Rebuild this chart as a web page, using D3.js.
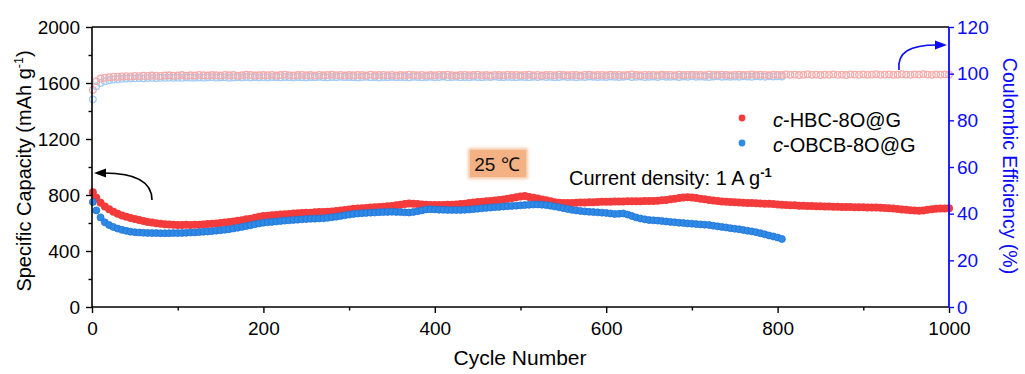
<!DOCTYPE html>
<html>
<head>
<meta charset="utf-8">
<script src="https://cdn.jsdelivr.net/npm/d3@7"></script>
<style>
  body { margin: 0; background: #fff; }
  svg { display: block; }
  text { font-family: "Liberation Sans", Arial, sans-serif; }
</style>
</head>
<body>
<svg id="chart" width="1025" height="374"></svg>
<script>
// Specific capacity (mAh g-1): first value is cycle 1, then every 5th cycle
const hbcCapacity = [
  820, 780, 745, 718, 698, 680, 666, 654, 645, 636,
  628, 621, 614, 608, 603, 598, 594, 591, 589, 587,
  586, 585, 587, 585, 588, 588, 590, 592, 594, 597,
  600, 603, 607, 611, 616, 620, 626, 631, 638, 644,
  650, 652, 655, 658, 660, 663, 665, 667, 669, 671,
  673, 674, 676, 678, 679, 681, 683, 686, 690, 693,
  697, 701, 704, 706, 708, 710, 712, 714, 716, 719,
  722, 726, 730, 735, 740, 738, 736, 733, 730, 729,
  728, 729, 729, 730, 730, 732, 735, 738, 742, 746,
  750, 752, 755, 757, 760, 764, 768, 773, 778, 784,
  790, 792, 786, 781, 775, 768, 762, 755, 748, 745,
  742, 742, 743, 745, 746, 747, 748, 749, 750, 751,
  752, 752, 753, 754, 754, 755, 755, 756, 756, 757,
  757, 758, 759, 762, 765, 769, 774, 778, 782, 784,
  782, 778, 774, 769, 765, 761, 757, 754, 752, 750,
  748, 746, 745, 743, 742, 741, 740, 738, 737, 735,
  733, 731, 729, 727, 726, 724, 723, 722, 721, 720,
  719, 718, 717, 716, 716, 715, 714, 714, 713, 712,
  712, 711, 711, 710, 709, 708, 706, 703, 700, 697,
  694, 691, 689, 688, 690, 694, 698, 701, 703, 704,
  705
];
const obcbCapacity = [
  750, 690, 640, 605, 585, 571, 560, 551, 544, 538,
  534, 532, 530, 529, 528, 528, 527, 527, 527, 528,
  528, 529, 530, 532, 533, 535, 537, 539, 542, 545,
  548, 552, 556, 561, 566, 572, 578, 584, 591, 597,
  602, 605, 608, 611, 614, 617, 619, 622, 624, 626,
  628, 630, 631, 633, 634, 637, 641, 645, 650, 655,
  660, 664, 668, 670, 672, 674, 675, 677, 678, 679,
  680, 679, 678, 676, 675, 679, 684, 690, 697, 698,
  697, 695, 694, 693, 693, 693, 693, 694, 696, 699,
  702, 705, 708, 710, 713, 715, 718, 720, 722, 724,
  726, 728, 730, 732, 733, 731, 728, 723, 718, 712,
  706, 700, 694, 690, 686, 683, 680, 678, 676, 674,
  672, 668, 664, 666, 668, 660, 650, 640, 632, 626,
  621, 619, 617, 614, 611, 608, 605, 602, 600, 597,
  595, 592, 590, 588, 586, 581, 576, 572, 568, 563,
  559, 555, 550, 545, 540, 534, 527, 519, 511, 504,
  496, 486
];

// Coulombic efficiency (%), same cycle sampling
const hbcEfficiency = [
  93.0, 96.8, 97.9, 98.3, 98.5, 98.7, 98.6, 98.8, 98.9, 98.8,
  99.0, 98.9, 99.1, 99.0, 99.2, 99.1, 99.0, 99.2, 99.3, 99.1,
  99.2, 99.4, 99.1, 99.3, 99.2, 99.5, 99.3, 99.2, 99.4, 99.3,
  99.2, 99.5, 99.3, 99.4, 99.1, 99.3, 99.6, 99.4, 99.2, 99.3,
  99.4, 99.3, 99.5, 99.2, 99.4, 99.6, 99.3, 99.2, 99.4, 99.5,
  99.3, 99.4, 99.2, 99.5, 99.3, 99.4, 99.6, 99.3, 99.5, 99.2,
  99.4, 99.3, 99.5, 99.4, 99.2, 99.6, 99.3, 99.4, 99.5, 99.3,
  99.5, 99.2, 99.4, 99.3, 99.6, 99.4, 99.3, 99.5, 99.2, 99.4,
  99.3, 99.5, 99.4, 99.6, 99.3, 99.2, 99.4, 99.5, 99.3, 99.4,
  99.6, 99.3, 99.4, 99.2, 99.5, 99.4, 99.3, 99.6, 99.4, 99.5,
  99.3, 99.4, 99.6, 99.3, 99.5, 99.2, 99.4, 99.5, 99.3, 99.6,
  99.4, 99.3, 99.5, 99.4, 99.2, 99.5, 99.6, 99.3, 99.4, 99.5,
  99.3, 99.6, 99.4, 99.5, 99.3, 99.4, 99.7, 99.4, 99.3, 99.5,
  99.4, 99.5, 99.3, 99.6, 99.4, 99.5, 99.3, 99.6, 99.4, 99.5,
  99.6, 99.4, 99.5, 99.3, 99.7, 99.5, 99.4, 99.6, 99.5, 99.3,
  99.5, 99.6, 99.4, 99.5, 99.7, 99.4, 99.6, 99.5, 99.3, 99.6,
  99.5, 99.4, 99.7, 99.5, 99.6, 99.4, 99.5, 99.8, 99.5, 99.6,
  99.4, 99.6, 99.5, 99.7, 99.5, 99.6, 99.4, 99.7, 99.6, 99.5,
  99.7, 99.5, 99.6, 99.8, 99.5, 99.6, 99.7, 99.5, 99.6, 99.8,
  99.6, 99.5, 99.7, 99.6, 99.8, 99.6, 99.5, 99.7, 99.6, 99.7,
  99.6
];
const obcbEfficiency = [
  89.0, 94.6, 96.0, 96.8, 97.2, 97.5, 97.6, 97.8, 97.9, 97.9,
  98.0, 98.1, 98.0, 98.1, 98.2, 98.1, 98.2, 98.2, 98.3, 98.2,
  98.3, 98.2, 98.4, 98.3, 98.3, 98.4, 98.3, 98.4, 98.5, 98.3,
  98.4, 98.5, 98.3, 98.4, 98.5, 98.4, 98.6, 98.4, 98.5, 98.4,
  98.5, 98.4, 98.6, 98.5, 98.4, 98.6, 98.5, 98.4, 98.6, 98.5,
  98.4, 98.6, 98.5, 98.7, 98.5, 98.4, 98.6, 98.5, 98.7, 98.5,
  98.6, 98.5, 98.4, 98.6, 98.7, 98.5, 98.6, 98.4, 98.6, 98.5,
  98.7, 98.5, 98.6, 98.5, 98.4, 98.7, 98.6, 98.5, 98.6, 98.7,
  98.5, 98.6, 98.8, 98.5, 98.6, 98.7, 98.5, 98.6, 98.5, 98.7,
  98.6, 98.5, 98.7, 98.6, 98.8, 98.6, 98.5, 98.7, 98.6, 98.5,
  98.7, 98.6, 98.5, 98.7, 98.6, 98.8, 98.6, 98.7, 98.5, 98.6,
  98.8, 98.6, 98.7, 98.5, 98.7, 98.6, 98.8, 98.7, 98.6, 98.7,
  98.6, 98.8, 98.7, 98.6, 98.7, 98.9, 98.6, 98.7, 98.8, 98.6,
  98.7, 98.8, 98.6, 98.9, 98.7, 98.7, 98.8, 98.6, 98.8, 98.7,
  98.9, 98.7, 98.8, 98.7, 98.6, 98.8, 98.9, 98.7, 98.8, 98.7,
  98.8, 98.7, 98.9, 98.8, 98.7, 98.9, 98.8, 98.7, 98.9, 98.8,
  98.9, 98.8
];

const seriesNames = ["HBC-8O@G", "OBCB-8O@G"];
const capacityTicks = [0, 400, 800, 1200, 1600, 2000];
const capacityMinorTicks = [200, 600, 1000, 1400, 1800];
const cycleTicks = [0, 200, 400, 600, 800, 1000];
const cycleMinorTicks = [100, 300, 500, 700, 900];
const efficiencyTicks = [0, 20, 40, 60, 80, 100, 120];

// cycle number of sample i: the first cycle, then every fifth
const cycleAt = i => (i === 0 ? 1 : i * 5);

const svg = d3.select("#chart");
const BLUE = "#0a0aff";
const plain = d3.format("d");

const x = d3.scaleLinear().domain([0, 1000]).range([92, 949]);
const yCap = d3.scaleLinear().domain([0, 2000]).range([307, 27]);
const yCE = d3.scaleLinear().domain([0, 120]).range([307, 27]);

// ---- data marks ----
function dots(data, yScale, r, attrs) {
  const g = svg.append("g");
  const sel = g.selectAll("circle").data(data).join("circle")
    .attr("cx", (d, i) => x(cycleAt(i)))
    .attr("cy", d => yScale(d))
    .attr("r", r);
  Object.entries(attrs).forEach(([k, v]) => sel.attr(k, v));
  return g;
}

dots(obcbEfficiency, yCE, 3.3, { fill: "none", stroke: "#a3cbf3", "stroke-width": 1.3 });
dots(hbcEfficiency, yCE, 3.3, { fill: "none", stroke: "#f6abab", "stroke-width": 1.3 });
dots(hbcCapacity, yCap, 4, { fill: "#f43b3b" });
dots(obcbCapacity, yCap, 3.5, { fill: "#2f8ae6", stroke: "#1f74d6", "stroke-width": 0.8 });

// ---- axes ----
function styleAxis(g, color, fontSize) {
  g.select(".domain").remove();
  g.selectAll(".tick line").attr("stroke", color).attr("stroke-width", 1.4);
  g.selectAll(".tick text").attr("fill", color)
    .style("font-family", '"Liberation Sans", Arial, sans-serif')
    .style("font-size", fontSize + "px");
}

const gLeft = svg.append("g").attr("transform", "translate(92,0)");
gLeft.call(d3.axisLeft(yCap).tickValues(capacityTicks).tickFormat(plain)
  .tickSize(6).tickPadding(6).tickSizeOuter(0));
styleAxis(gLeft, "#000", 19);
const gLeftMinor = svg.append("g").attr("transform", "translate(92,0)");
gLeftMinor.call(d3.axisLeft(yCap).tickValues(capacityMinorTicks).tickSize(3.5).tickFormat(""));
styleAxis(gLeftMinor, "#000", 19);

const gBottom = svg.append("g").attr("transform", "translate(0,307)");
gBottom.call(d3.axisBottom(x).tickValues(cycleTicks).tickFormat(plain)
  .tickSize(6).tickPadding(9).tickSizeOuter(0));
styleAxis(gBottom, "#000", 19);
const gBottomMinor = svg.append("g").attr("transform", "translate(0,307)");
gBottomMinor.call(d3.axisBottom(x).tickValues(cycleMinorTicks).tickSize(3.5).tickFormat(""));
styleAxis(gBottomMinor, "#000", 19);

const gRight = svg.append("g").attr("transform", "translate(949,0)");
gRight.call(d3.axisRight(yCE).tickValues(efficiencyTicks).tickFormat(plain)
  .tickSize(5).tickPadding(3).tickSizeOuter(0));
styleAxis(gRight, BLUE, 19);

// frame lines
svg.append("line").attr("x1", 92).attr("x2", 949).attr("y1", 27).attr("y2", 27)
  .attr("stroke", "#000").attr("stroke-width", 1.4);
svg.append("line").attr("x1", 92).attr("x2", 949).attr("y1", 307).attr("y2", 307)
  .attr("stroke", "#000").attr("stroke-width", 1.6);
svg.append("line").attr("x1", 92).attr("x2", 92).attr("y1", 27).attr("y2", 307)
  .attr("stroke", "#000").attr("stroke-width", 1.6);
svg.append("line").attr("x1", 949).attr("x2", 949).attr("y1", 27).attr("y2", 307)
  .attr("stroke", BLUE).attr("stroke-width", 1.8);

// ---- axis titles ----
const leftTitle = svg.append("text")
  .attr("transform", "translate(31,171) rotate(-90)")
  .attr("text-anchor", "middle")
  .style("font-size", "20px").attr("fill", "#000");
leftTitle.append("tspan").text("Specific Capacity (mAh g");
leftTitle.append("tspan").attr("dy", -8).style("font-size", "12.5px").text("-1");
leftTitle.append("tspan").attr("dy", 8).text(")");

svg.append("text")
  .attr("x", 520).attr("y", 365)
  .attr("text-anchor", "middle")
  .style("font-size", "21px").attr("fill", "#000")
  .text("Cycle Number");

svg.append("text")
  .attr("transform", "translate(1003,166) rotate(90)")
  .attr("text-anchor", "middle")
  .style("font-size", "19.5px").attr("fill", BLUE)
  .text("Coulombic Efficiency (%)");

// ---- legend ----
const legend = svg.append("g");
[[seriesNames[0], "#f43b3b", 118, 127], [seriesNames[1], "#2f8ae6", 143, 152]].forEach(([name, color, cy, by]) => {
  legend.append("circle").attr("cx", 742).attr("cy", cy).attr("r", 3.4).attr("fill", color);
  const t = legend.append("text").attr("x", 773).attr("y", by)
    .style("font-size", "20px").attr("fill", "#000");
  t.append("tspan").style("font-style", "italic").text("c");
  t.append("tspan").text("-" + name);
});

// ---- annotations ----
const defs = svg.append("defs");
defs.append("filter").attr("id", "soft").attr("x", "-20%").attr("y", "-30%")
  .attr("width", "140%").attr("height", "160%")
  .append("feGaussianBlur").attr("stdDeviation", 1.6);

svg.append("rect").attr("x", 468).attr("y", 148).attr("width", 60).attr("height", 31)
  .attr("fill", "#f6c7a6").attr("filter", "url(#soft)");
svg.append("rect").attr("x", 470).attr("y", 150).attr("width", 56).attr("height", 27)
  .attr("fill", "#f4b183");
svg.append("text").attr("x", 497).attr("y", 171).attr("text-anchor", "middle")
  .style("font-size", "19px").attr("fill", "#111").text("25 \u2103");

const cd = svg.append("text").attr("x", 569).attr("y", 185)
  .style("font-size", "20px").attr("fill", "#000");
cd.append("tspan").text("Current density: 1 A g");
cd.append("tspan").attr("dy", -8).style("font-size", "13px").style("font-weight", "bold").text("-1");

// curved arrow toward the capacity axis
svg.append("path").attr("d", "M152,200 C152,184 140,173 104,173")
  .attr("fill", "none").attr("stroke", "#000").attr("stroke-width", 1.6);
svg.append("path").attr("d", "M94,173 L106,168.5 L106,177.5 Z").attr("fill", "#000");

// curved arrow toward the efficiency axis
svg.append("path").attr("d", "M899,70 C897,52 910,45 937,45")
  .attr("fill", "none").attr("stroke", BLUE).attr("stroke-width", 1.6);
svg.append("path").attr("d", "M947,45 L935,40.5 L935,49.5 Z").attr("fill", BLUE);
</script>
</body>
</html>
